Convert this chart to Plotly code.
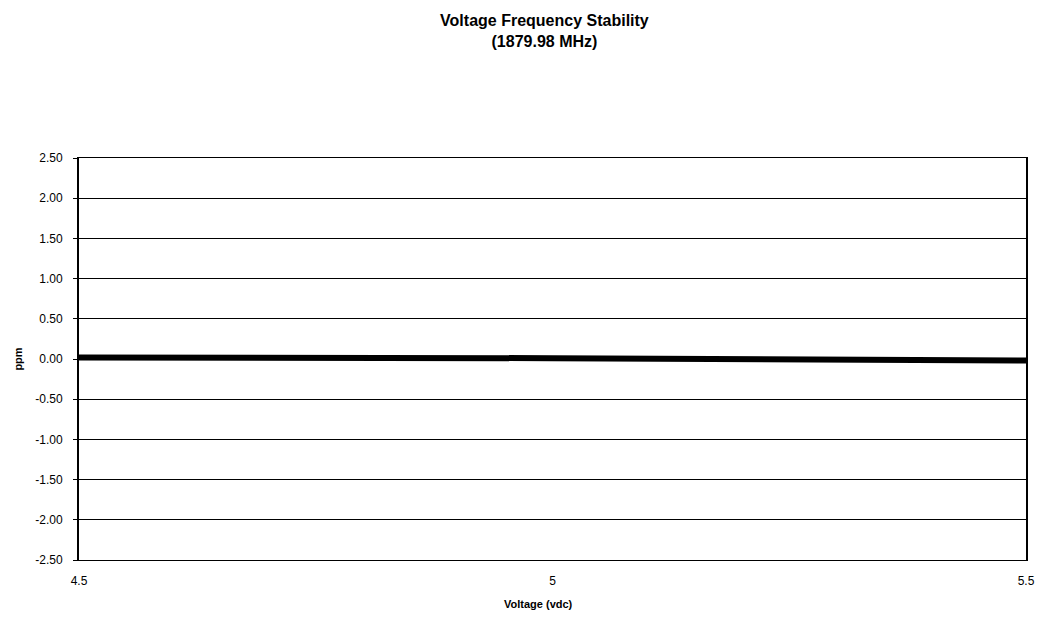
import plotly.graph_objects as go

# Supply voltage (vdc) and measured frequency deviation (ppm)
voltage = [4.5, 5.0, 5.5]
deviation_ppm = [0.02, 0.01, -0.02]

y_ticks = [2.5, 2.0, 1.5, 1.0, 0.5, 0.0, -0.5, -1.0, -1.5, -2.0, -2.5]
y_tick_text = ["2.50", "2.00", "1.50", "1.00", "0.50", "0.00",
               "-0.50", "-1.00", "-1.50", "-2.00", "-2.50"]
x_ticks = [4.5, 5.0, 5.5]
x_tick_text = ["4.5", "5", "5.5"]

font_family = "Liberation Sans, Arial, sans-serif"

fig = go.Figure()
fig.add_trace(go.Scatter(
    x=voltage, y=deviation_ppm, mode="lines",
    line=dict(color="black", width=6),
    showlegend=False,
))

fig.update_layout(
    width=1047, height=626,
    margin=dict(l=79, r=16, t=158, b=66),
    paper_bgcolor="white", plot_bgcolor="white",
    font=dict(family=font_family, color="black", size=12),
    title=dict(
        text="<b>Voltage Frequency Stability<br>(1879.98 MHz)</b>",
        x=0.52, xanchor="center", y=0.958, yanchor="middle",
        font=dict(size=16, family=font_family, color="black"),
    ),
    annotations=[dict(
        text="<b>Voltage (vdc)</b>", xref="paper", yref="paper",
        x=0.485, y=-0.09, xanchor="center", yanchor="top",
        showarrow=False, font=dict(size=11, family=font_family, color="black"),
    )],
)

fig.update_xaxes(
    range=[4.5, 5.5], tickvals=x_ticks, ticktext=x_tick_text,
    showgrid=False, zeroline=False,
    showline=True, linecolor="black", linewidth=1, mirror=True,
    ticks="", ticklabelstandoff=10,
    tickfont=dict(size=12),
)
fig.update_yaxes(
    range=[-2.5, 2.5], tickvals=y_ticks, ticktext=y_tick_text,
    showgrid=True, gridcolor="black", gridwidth=1,
    zeroline=False,
    showline=True, linecolor="black", linewidth=2, mirror=True,
    ticks="outside", ticklen=4, tickcolor="black",
    ticklabelstandoff=8,
    tickfont=dict(size=12),
    title=dict(text="<b>ppm</b>", font=dict(size=11), standoff=10),
)

fig.write_html("out.html")
